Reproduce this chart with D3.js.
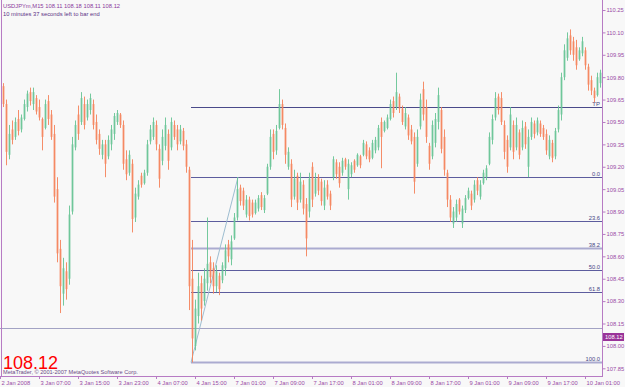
<!DOCTYPE html>
<html>
<head>
<meta charset="utf-8">
<script src="https://cdn.jsdelivr.net/npm/d3@7"></script>
<style>
  body { margin: 0; background: #f8f8f8; }
  svg { display: block; font-family: "Liberation Sans", Arial, sans-serif; }
</style>
</head>
<body>
<div id="chart"></div>
<script>
// USDJPYm M15 bars, [open, high, low, close]
var bars = [
  [109.74,109.76,109.60,109.62],[109.62,109.65,109.21,109.30],[109.28,109.48,109.25,109.42],[109.45,109.51,109.35,109.38],
  [109.40,109.53,109.38,109.50],[109.52,109.58,109.41,109.44],[109.45,109.55,109.43,109.53],[109.52,109.65,109.51,109.62],
  [109.60,109.71,109.57,109.69],[109.70,109.73,109.61,109.64],[109.62,109.73,109.58,109.70],[109.66,109.68,109.55,109.57],
  [109.60,109.65,109.51,109.53],[109.52,109.53,109.31,109.40],[109.46,109.65,109.45,109.62],[109.64,109.68,109.48,109.52],
  [109.55,109.58,109.38,109.40],[109.42,109.48,108.96,109.00],[109.05,109.13,108.56,108.62],[108.65,108.71,108.22,108.40],
  [108.35,108.59,108.27,108.52],[108.50,108.56,108.31,108.38],[108.45,108.94,108.41,108.88],[108.90,109.40,108.88,109.35],
  [109.33,109.51,109.31,109.48],[109.55,109.61,109.38,109.42],[109.50,109.70,109.48,109.66],[109.62,109.67,109.45,109.48],
  [109.53,109.65,109.51,109.62],[109.58,109.69,109.55,109.66],[109.62,109.65,109.45,109.48],[109.50,109.55,109.35,109.38],
  [109.42,109.45,109.28,109.32],[109.28,109.38,109.25,109.35],[109.35,109.38,109.13,109.22],[109.27,109.41,109.25,109.38],
  [109.35,109.48,109.31,109.45],[109.42,109.56,109.38,109.54],[109.50,109.58,109.48,109.56],[109.55,109.56,109.46,109.48],
  [109.48,109.51,109.18,109.22],[109.25,109.31,109.11,109.15],[109.16,109.31,109.14,109.28],[109.22,109.25,108.76,108.85],
  [108.86,109.06,108.83,109.02],[109.00,109.11,108.98,109.08],[109.14,109.16,109.06,109.08],[109.09,109.18,109.08,109.16],
  [109.16,109.38,109.14,109.35],[109.37,109.48,109.35,109.45],[109.40,109.53,109.38,109.50],[109.48,109.51,109.31,109.35],
  [109.32,109.35,109.06,109.12],[109.24,109.45,109.21,109.40],[109.34,109.53,109.31,109.48],[109.42,109.45,109.18,109.24],
  [109.33,109.53,109.31,109.50],[109.48,109.51,109.38,109.40],[109.45,109.48,109.31,109.35],[109.37,109.48,109.35,109.45],
  [109.44,109.46,109.31,109.34],[109.35,109.38,109.16,109.20],[109.18,109.20,108.24,108.40],[108.45,108.71,107.89,108.05],
  [108.00,108.31,107.97,108.25],[108.20,108.49,108.15,108.40],[108.42,108.47,108.17,108.25],[108.30,108.52,108.27,108.45],
  [108.42,108.86,108.37,108.55],[108.56,108.60,108.42,108.46],[108.52,108.56,108.35,108.40],[108.40,108.54,108.36,108.50],
  [108.47,108.49,108.34,108.38],[108.44,108.56,108.42,108.54],[108.52,108.68,108.47,108.64],[108.68,108.71,108.56,108.60],
  [108.58,108.74,108.54,108.70],[108.72,108.89,108.71,108.86],[108.86,109.13,108.84,109.05],[109.06,109.08,108.94,108.97],
  [109.04,109.06,108.91,108.94],[108.88,109.01,108.86,108.98],[108.98,109.00,108.84,108.87],[108.96,108.98,108.86,108.88],
  [108.89,108.98,108.88,108.96],[108.92,109.01,108.90,108.99],[109.01,109.03,108.91,108.93],[108.91,109.01,108.89,108.99],
  [109.02,109.22,109.01,109.20],[109.20,109.45,109.18,109.40],[109.42,109.45,109.25,109.30],[109.31,109.48,109.28,109.44],
  [109.46,109.72,109.45,109.62],[109.62,109.65,109.45,109.48],[109.46,109.49,109.22,109.28],[109.20,109.33,109.18,109.30],
  [109.22,109.25,108.93,108.98],[109.00,109.18,108.98,109.12],[109.14,109.16,108.91,108.96],[108.98,109.16,108.96,109.10],
  [109.08,109.11,108.88,108.92],[108.95,108.99,108.60,108.72],[108.90,109.16,108.86,109.12],[109.20,109.23,108.93,108.98],
  [109.02,109.16,109.00,109.12],[109.13,109.15,109.01,109.04],[109.10,109.12,108.94,108.97],[108.94,109.11,108.91,109.06],
  [109.08,109.11,108.98,109.00],[109.02,109.04,108.91,108.94],[109.13,109.27,109.11,109.25],[109.23,109.25,109.12,109.15],
  [109.20,109.23,109.06,109.09],[109.16,109.26,109.14,109.24],[109.25,109.26,109.18,109.20],[109.05,109.25,108.98,109.22],
  [109.15,109.23,109.13,109.21],[109.24,109.25,109.16,109.18],[109.21,109.29,109.20,109.28],[109.27,109.28,109.19,109.21],
  [109.28,109.38,109.27,109.36],[109.35,109.37,109.25,109.27],[109.31,109.33,109.23,109.25],[109.26,109.38,109.25,109.36],
  [109.31,109.40,109.29,109.38],[109.33,109.48,109.31,109.46],[109.50,109.53,109.19,109.40],[109.44,109.51,109.43,109.50],
  [109.46,109.55,109.45,109.53],[109.52,109.65,109.51,109.62],[109.64,109.67,109.53,109.56],[109.60,109.83,109.58,109.70],
  [109.67,109.69,109.56,109.59],[109.59,109.61,109.48,109.50],[109.47,109.60,109.45,109.56],[109.53,109.55,109.38,109.41],
  [109.45,109.48,109.35,109.37],[109.40,109.43,109.02,109.10],[109.22,109.45,109.20,109.40],[109.47,109.69,109.45,109.65],
  [109.72,109.77,109.51,109.55],[109.60,109.65,109.36,109.40],[109.34,109.36,109.18,109.22],[109.27,109.51,109.25,109.48],
  [109.36,109.56,109.33,109.52],[109.50,109.73,109.45,109.68],[109.58,109.60,109.29,109.32],[109.40,109.45,109.14,109.18],
  [109.16,109.18,108.93,108.98],[108.98,109.01,108.83,108.86],[108.82,108.93,108.79,108.90],[108.86,108.98,108.83,108.95],
  [108.98,108.99,108.88,108.90],[108.82,108.94,108.79,108.92],[108.91,109.01,108.89,108.99],[108.99,109.06,108.98,109.04],
  [109.02,109.04,108.91,108.94],[108.98,109.11,108.96,109.08],[109.11,109.13,109.01,109.04],[109.00,109.11,108.98,109.08],
  [109.09,109.18,109.08,109.16],[109.13,109.21,109.11,109.19],[109.22,109.43,109.21,109.40],[109.38,109.55,109.35,109.52],
  [109.53,109.70,109.51,109.66],[109.67,109.69,109.55,109.58],[109.66,109.70,109.48,109.50],[109.48,109.51,109.25,109.30],
  [109.38,109.41,109.16,109.20],[109.33,109.60,109.31,109.55],[109.48,109.51,109.25,109.30],[109.33,109.53,109.31,109.48],
  [109.43,109.45,109.25,109.28],[109.33,109.51,109.31,109.46],[109.47,109.50,109.32,109.35],[109.20,109.45,109.13,109.40],
  [109.40,109.53,109.38,109.50],[109.49,109.51,109.39,109.42],[109.43,109.53,109.41,109.51],[109.49,109.51,109.40,109.42],
  [109.46,109.48,109.38,109.40],[109.42,109.45,109.28,109.31],[109.27,109.41,109.25,109.38],[109.36,109.38,109.23,109.26],
  [109.27,109.46,109.25,109.44],[109.45,109.61,109.43,109.58],[109.55,109.83,109.51,109.80],[109.80,110.02,109.78,109.98],
  [109.93,110.10,109.91,110.06],[110.08,110.12,109.95,109.98],[110.04,110.07,109.91,109.95],[110.00,110.05,109.85,109.88],
  [109.92,110.00,109.91,109.98],[109.96,110.07,109.94,110.04],[109.98,110.00,109.85,109.88],[109.87,109.89,109.71,109.75],
  [109.78,109.81,109.68,109.71],[109.71,109.73,109.63,109.66],[109.68,109.83,109.67,109.80],[109.76,109.85,109.73,109.83]
];

var timeLabels = ["2 Jan 2008", "3 Jan 07:00", "3 Jan 15:00", "3 Jan 23:00", "4 Jan 07:00", "4 Jan 15:00",
  "7 Jan 01:00", "7 Jan 09:00", "7 Jan 17:00", "8 Jan 01:00", "8 Jan 09:00", "8 Jan 17:00",
  "9 Jan 01:00", "9 Jan 09:00", "9 Jan 17:00", "10 Jan 01:00"];
var timeIdx = [-1, 12, 25, 38, 51, 64, 77, 90, 103, 116, 129, 142, 155, 168, 181, 194];

var priceTicks = [110.25, 110.10, 109.95, 109.80, 109.65, 109.50, 109.35, 109.20, 109.05,
  108.90, 108.75, 108.60, 108.45, 108.30, 108.15, 108.00, 107.85];

var fibLevels = [0, 23.6, 38.2, 50, 61.8, 100];
var fibHigh = 109.13, fibLow = 107.89;   // swing high / low of the retracement
var fibFrom = 63, fibTo = 78;             // bar indices of low and high
var tpPrice = 109.60;
var bidPrice = 108.12;
var header = ["USDJPYm,M15  108.11 108.18 108.11 108.12", "10 minutes 37 seconds left to bar end"];

var width = 625, height = 387;
var plotRight = 602, plotBottom = 376;

var svg = d3.select("#chart").append("svg")
    .attr("width", width)
    .attr("height", height);

svg.append("rect").attr("width", width).attr("height", height).attr("fill", "#f8f8f8");

var x = d3.scaleLinear().domain([0, 199]).range([3, 600]);
var y = d3.scaleLinear().domain([107.85, 110.25]).range([368.3, 10]);

var axisCol = "#b77bc4", labelCol = "#9a4aa6", fibCol = "#5d5d9e";

// bid line
svg.append("line")
    .attr("x1", 0).attr("x2", plotRight)
    .attr("y1", Math.round(y(bidPrice)) + 0.5).attr("y2", Math.round(y(bidPrice)) + 0.5)
    .attr("stroke", "#a3a3c4").attr("stroke-width", 1);

// fibonacci levels
var fibY = function(l) { return y(fibHigh - (fibHigh - fibLow) * l / 100); };
var fx0 = Math.round(x(fibFrom)) - 1;

svg.selectAll(".fib").data(fibLevels).enter().append("line")
    .attr("class", "fib")
    .attr("x1", fx0).attr("x2", plotRight)
    .attr("y1", function(d) { return Math.round(fibY(d)) + 0.5; })
    .attr("y2", function(d) { return Math.round(fibY(d)) + 0.5; })
    .attr("stroke", function(d) { return (d === 38.2 || d === 100) ? "#ababd0" : fibCol; })
    .attr("stroke-width", function(d) { return (d === 38.2 || d === 100) ? 2 : 1; });

svg.selectAll(".fibtxt").data(fibLevels).enter().append("text")
    .attr("x", 600).attr("y", function(d) { return Math.round(fibY(d)) - 1.5; })
    .attr("text-anchor", "end")
    .attr("font-size", 5.8).attr("fill", "#474785")
    .text(function(d) { return d.toFixed(1); });

// TP line
svg.append("line")
    .attr("x1", fx0).attr("x2", plotRight)
    .attr("y1", Math.round(y(tpPrice)) + 0.5).attr("y2", Math.round(y(tpPrice)) + 0.5)
    .attr("stroke", "#4a4a8a");
svg.append("text")
    .attr("x", 600).attr("y", Math.round(y(tpPrice)) - 1)
    .attr("text-anchor", "end").attr("font-size", 6).attr("fill", "#474785")
    .text("TP");

// retracement trend line
svg.append("line")
    .attr("x1", fx0).attr("y1", y(fibLow))
    .attr("x2", x(fibTo) + 1).attr("y2", y(fibHigh))
    .attr("stroke", "#9dbdd0").attr("stroke-width", 1);

// candles
var upCol = "#66c494", dnCol = "#f5825a";
var g = svg.append("g");
bars.forEach(function(b, i) {
  var cx = Math.round(x(i)) + 0.5;
  var col = b[3] >= b[0] ? upCol : dnCol;
  var top = y(Math.max(b[0], b[3])), bot = y(Math.min(b[0], b[3]));
  g.append("rect")
      .attr("x", cx - 1.5).attr("width", 3)
      .attr("y", top).attr("height", Math.max(1, bot - top))
      .attr("fill", col).attr("opacity", 0.35);
  g.append("line")
      .attr("x1", cx).attr("x2", cx)
      .attr("y1", y(b[1])).attr("y2", y(b[2]))
      .attr("stroke", col).attr("stroke-width", 1).attr("opacity", 0.9);
});

// frame
svg.append("line").attr("x1", 1.5).attr("x2", 1.5).attr("y1", 0).attr("y2", plotBottom)
    .attr("stroke", axisCol);
svg.append("line").attr("x1", 0).attr("x2", plotRight).attr("y1", plotBottom + 0.5).attr("y2", plotBottom + 0.5)
    .attr("stroke", axisCol);

// price axis
var yAxis = d3.axisRight(y).tickValues(priceTicks).tickFormat(d3.format(".2f"))
    .tickSize(3).tickSizeOuter(0).tickPadding(1);
var ya = svg.append("g").attr("transform", "translate(" + (plotRight + 0.5) + ",0)").call(yAxis);
ya.select(".domain").attr("stroke", axisCol).attr("d", "M0,0V" + (plotBottom + 1));
ya.selectAll(".tick line").attr("stroke", axisCol);
ya.selectAll(".tick text").attr("fill", labelCol).attr("font-size", 5.8)
    .attr("font-family", "Liberation Sans, Arial, sans-serif");

// time axis
var tg = svg.append("g").selectAll("g").data(timeIdx).enter().append("g")
    .attr("transform", function(d) { return "translate(" + (Math.round(x(d)) + 0.5) + "," + plotBottom + ")"; });
tg.append("line").attr("y1", 0).attr("y2", 3).attr("stroke", axisCol);
tg.append("text")
    .attr("x", 1).attr("y", 8.5)
    .attr("font-size", 5.8).attr("fill", labelCol)
    .text(function(d, i) { return timeLabels[i]; });

// current price box
var by = Math.round(y(bidPrice));
svg.append("rect").attr("x", plotRight + 1).attr("y", by + 5).attr("width", 21).attr("height", 8)
    .attr("fill", "#993399");
svg.append("text").attr("x", plotRight + 3).attr("y", by + 11.2)
    .attr("font-size", 5.8).attr("fill", "#ffffff").text(bidPrice.toFixed(2));

// header text
svg.selectAll(".hdr").data(header).enter().append("text")
    .attr("x", 3).attr("y", function(d, i) { return 7.5 + i * 8; })
    .attr("font-size", 5.8)
    .attr("fill", function(d, i) { return i === 0 ? "#8b3a9c" : "#5b3286"; })
    .text(function(d) { return d; });

// big price & copyright
svg.append("text").attr("x", 3).attr("y", 368.5)
    .attr("font-size", 18).attr("fill", "#ff0000").text(bidPrice.toFixed(2));
svg.append("text").attr("x", 3).attr("y", 374)
    .attr("font-size", 5.6).attr("fill", "#6a4a86")
    .text("MetaTrader, \u00a9 2001-2007 MetaQuotes Software Corp.");
</script>
</body>
</html>
